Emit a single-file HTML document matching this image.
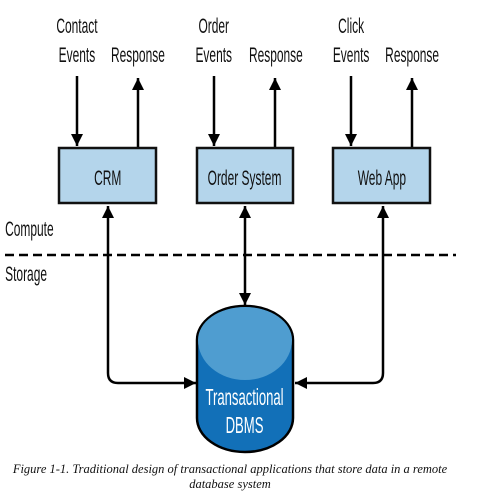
<!DOCTYPE html>
<html><head><meta charset="utf-8"><style>
html,body{margin:0;padding:0;background:#fff;width:479px;height:499px;overflow:hidden}
</style></head><body>
<svg width="479" height="499" viewBox="0 0 479 499" xmlns="http://www.w3.org/2000/svg">
<defs>
<marker id="a" viewBox="0 0 10 10" refX="10" refY="5" markerWidth="12" markerHeight="12" markerUnits="userSpaceOnUse" orient="auto-start-reverse"><path d="M0,0 L10,5 L0,10 Z" fill="#000"/></marker>
</defs>
<g stroke="#000" stroke-width="2.5" fill="none">
<line x1="77" y1="76" x2="77" y2="146" marker-end="url(#a)"/>
<line x1="138" y1="148" x2="138" y2="78" marker-end="url(#a)"/>
<line x1="214" y1="76" x2="214" y2="146" marker-end="url(#a)"/>
<line x1="275" y1="148" x2="275" y2="78" marker-end="url(#a)"/>
<line x1="351" y1="76" x2="351" y2="146" marker-end="url(#a)"/>
<line x1="412" y1="148" x2="412" y2="78" marker-end="url(#a)"/>
<path d="M108,206 L108,373 Q108,383 118,383 L196,383" marker-start="url(#a)" marker-end="url(#a)"/>
<path d="M383,206 L383,373 Q383,383 373,383 L295,383" marker-start="url(#a)" marker-end="url(#a)"/>
<line x1="245" y1="206" x2="245" y2="305" marker-start="url(#a)" marker-end="url(#a)"/>
<line x1="5" y1="255" x2="456" y2="255" stroke-dasharray="9,5"/>
</g>
<g stroke="#111" stroke-width="2.5" fill="#b4d5eb">
<rect x="59" y="148" width="97" height="55"/>
<rect x="197" y="148" width="96" height="55"/>
<rect x="333" y="148" width="97" height="55"/>
</g>
<g font-family="'Liberation Sans',sans-serif" font-size="21" fill="#111" transform="scale(0.57,1)">
<text x="135" y="33" text-anchor="middle">Contact</text>
<text x="135" y="62" text-anchor="middle">Events</text>
<text x="242" y="62" text-anchor="middle">Response</text>
<text x="375" y="33" text-anchor="middle">Order</text>
<text x="375" y="62" text-anchor="middle">Events</text>
<text x="484" y="62" text-anchor="middle">Response</text>
<text x="616" y="33" text-anchor="middle">Click</text>
<text x="616" y="62" text-anchor="middle">Events</text>
<text x="723" y="62" text-anchor="middle">Response</text>
<text x="9" y="236">Compute</text>
<text x="9" y="281">Storage</text>
<text x="189" y="185" text-anchor="middle">CRM</text>
<text x="429" y="185" text-anchor="middle">Order System</text>
<text x="670" y="185" text-anchor="middle">Web App</text>
</g>
<path d="M197,340 A48,34 0 0 1 293,340 L293,418 A48,34 0 0 1 197,418 Z" fill="#1270b8" stroke="#000" stroke-width="2.5"/>
<path d="M198,340 A47,33 0 0 1 292,340 A47,40 0 0 1 198,340 Z" fill="#4f9dd0"/>
<g transform="scale(0.57,1)" font-family="'Liberation Sans',sans-serif" font-size="23" fill="#fff" text-anchor="middle">
<text x="429" y="405">Transactional</text>
<text x="429" y="433">DBMS</text>
</g>
<g font-family="'Liberation Serif',serif" font-style="italic" font-size="12.5" fill="#111" text-anchor="middle">
<text x="230" y="473">Figure 1-1. Traditional design of transactional applications that store data in a remote</text>
<text x="230" y="488">database system</text>
</g>
</svg>
</body></html>
